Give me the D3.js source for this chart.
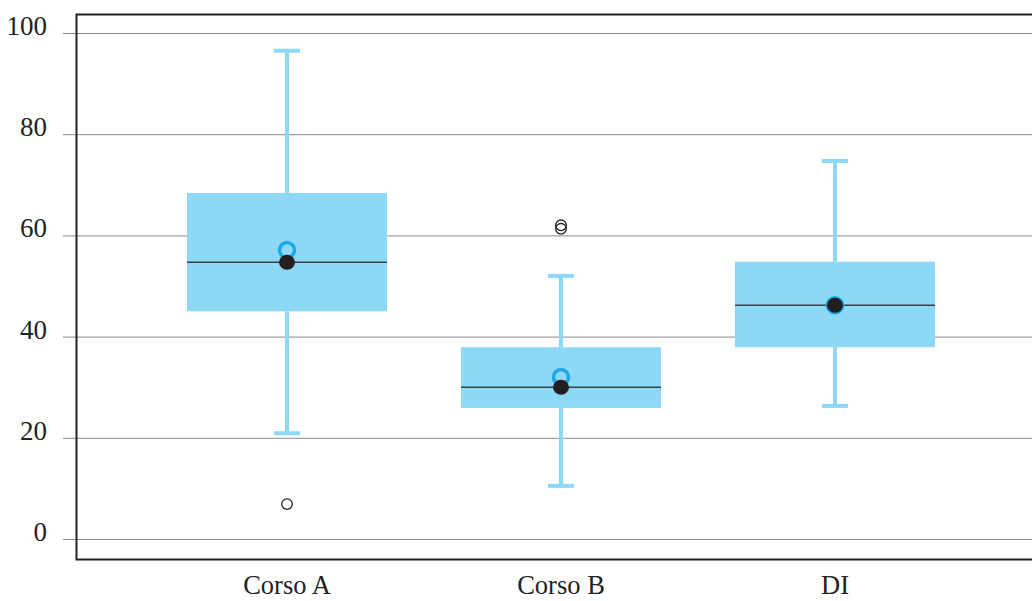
<!DOCTYPE html>
<html>
<head>
<meta charset="utf-8">
<script src="https://cdn.jsdelivr.net/npm/d3@7"></script>
<style>
  html, body { margin: 0; padding: 0; background: #fff; }
  svg { display: block; }
</style>
</head>
<body>
<svg id="chart" width="1032" height="601"></svg>
<script>
const categories = ["Corso A", "Corso B", "DI"];
const whiskerLow  = [20.9, 10.5, 26.3];
const q1          = [45.0, 25.9, 37.9];
const median      = [54.7, 30.0, 46.2];
const q3          = [68.4, 37.9, 54.8];
const whiskerHigh = [96.5, 52.0, 74.7];
const means       = [57.1, 32.0, 46.2];
const outliers    = [[6.9], [62.0, 61.3], []];
const yTicks      = [0, 20, 40, 60, 80, 100];

const svg = d3.select("#chart");
const mLeft = 76, mRight = 1032, mTop = 14, mBottom = 560;

const x = d3.scalePoint().domain(categories).range([287, 835]);
const y = d3.scaleLinear().domain([0, 100]).range([539, 33]);

// gridlines
svg.append("g").selectAll("line").data(yTicks).join("line")
  .attr("x1", 63).attr("x2", mRight)
  .attr("y1", d => y(d) + 0.5).attr("y2", d => y(d) + 0.5)
  .attr("stroke", "#8a8a8a").attr("stroke-width", 1);

// frame
svg.append("path")
  .attr("d", `M${mRight},${mTop + 0.5}H${mLeft + 0.5}V${mBottom - 0.5}H${mRight}`)
  .attr("fill", "none").attr("stroke", "#222").attr("stroke-width", 2);

// y tick labels
svg.append("g").selectAll("text").data(yTicks).join("text")
  .attr("x", 47).attr("y", d => y(d) + 2)
  .attr("text-anchor", "end")
  .attr("font-family", "'Liberation Serif', 'Times New Roman', serif")
  .attr("font-size", 27).attr("fill", "#222")
  .text(d => d);

// x labels
svg.append("g").selectAll("text").data(categories).join("text")
  .attr("x", d => x(d)).attr("y", 594)
  .attr("text-anchor", "middle")
  .attr("font-family", "'Liberation Serif', 'Times New Roman', serif")
  .attr("font-size", 26.5).attr("fill", "#222")
  .text(d => d);

const boxColor = "#8dd8f6";
const g = svg.append("g");
categories.forEach((c, i) => {
  const cx = x(c);
  const bw = 200;
  // whiskers
  g.append("line").attr("x1", cx).attr("x2", cx)
    .attr("y1", y(whiskerHigh[i])).attr("y2", y(q3[i]))
    .attr("stroke", boxColor).attr("stroke-width", 4);
  g.append("line").attr("x1", cx).attr("x2", cx)
    .attr("y1", y(q1[i])).attr("y2", y(whiskerLow[i]))
    .attr("stroke", boxColor).attr("stroke-width", 4);
  [whiskerHigh[i], whiskerLow[i]].forEach(v => {
    g.append("line").attr("x1", cx - 13).attr("x2", cx + 13)
      .attr("y1", y(v)).attr("y2", y(v))
      .attr("stroke", boxColor).attr("stroke-width", 4);
  });
  // box
  g.append("rect").attr("x", cx - bw / 2).attr("width", bw)
    .attr("y", y(q3[i])).attr("height", y(q1[i]) - y(q3[i]))
    .attr("fill", boxColor);
  // median line
  g.append("line").attr("x1", cx - bw / 2).attr("x2", cx + bw / 2)
    .attr("y1", y(median[i])).attr("y2", y(median[i]))
    .attr("stroke", "#3a3f44").attr("stroke-width", 1.5);
  // mean circle
  g.append("circle").attr("cx", cx).attr("cy", y(means[i])).attr("r", 7.5)
    .attr("fill", "none").attr("stroke", "#18a9e6").attr("stroke-width", 3.5);
  // median dot
  g.append("ellipse").attr("cx", cx).attr("cy", y(median[i]))
    .attr("rx", 8).attr("ry", 7.5).attr("fill", "#231f20");
  // outliers
  outliers[i].forEach(v => {
    g.append("circle").attr("cx", cx).attr("cy", y(v)).attr("r", 5.3)
      .attr("fill", "none").attr("stroke", "#222").attr("stroke-width", 1.3);
  });
});
</script>
</body>
</html>
